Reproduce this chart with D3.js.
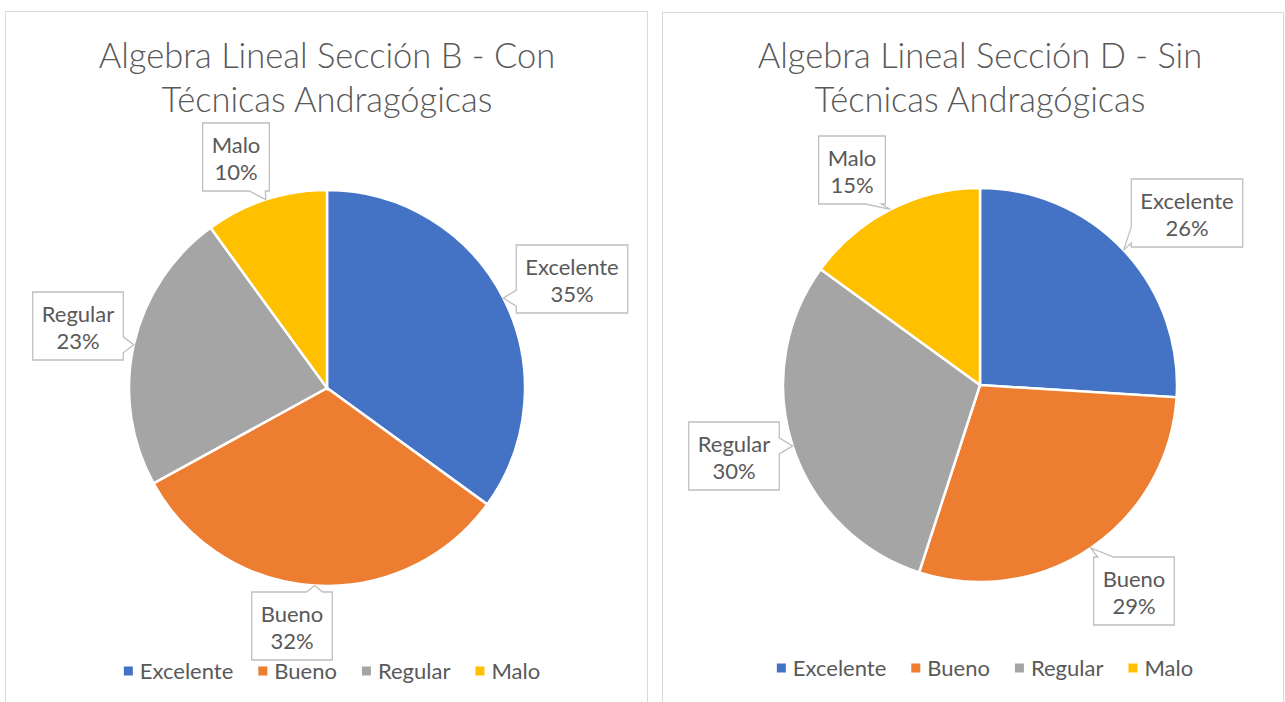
<!DOCTYPE html>
<html>
  <head>
    <meta charset="utf-8">
    <title>Algebra Lineal - pie charts</title>
    <style>
      body {
        margin: 0px;
        overflow: hidden;
        background: white;
      }

      .panel {
        fill: white;
        stroke: #d9d9d9;
        stroke-width: 1px;
        shape-rendering: crispEdges;
      }

      .title {
        font-family: Lato, sans-serif;
        font-weight: 300;
        font-size: 34.5px;
        fill: #595959;
        text-anchor: middle;
      }

      .slice {
        stroke: white;
        stroke-width: 2.5px;
      }

      .callout {
        fill: white;
        stroke: #bfbfbf;
        stroke-width: 1.3px;
      }

      .callout-text, .legend-text {
        font-family: Lato, sans-serif;
        font-size: 22px;
        fill: #595959;
      }

      .callout-text {
        text-anchor: middle;
      }
    </style>
  </head>
  <body>
    <svg id="container" width="1285" height="702"></svg>
    <script src="https://cdn.jsdelivr.net/npm/d3@7/dist/d3.min.js"></script>
    <script type="text/javascript">
      var categories = ['Excelente', 'Bueno', 'Regular', 'Malo'];
      var colors = ['#4472C4', '#ED7D31', '#A5A5A5', '#FFC000'];

      var valuesB = [35, 32, 23, 10];
      var valuesD = [26, 29, 30, 15];

      var titleB = ['Algebra Lineal Sección B - Con', 'Técnicas Andragógicas'];
      var titleD = ['Algebra Lineal Sección D - Sin', 'Técnicas Andragógicas'];

      var svg = d3.select('#container');

      // layout of the two panels, label box centres follow category order
      var charts = [
        {
          title: titleB, values: valuesB,
          panel: [5, 11, 642, 720],
          cx: 327, cy: 388, r: 198,
          legendY: 671,
          boxes: [[572, 279], [292, 626], [78, 326], [236, 157]]
        },
        {
          title: titleD, values: valuesD,
          panel: [662, 12, 621, 720],
          cx: 980, cy: 385, r: 197,
          legendY: 668,
          boxes: [[1187, 213], [1134, 591], [734, 456], [852, 170]]
        }
      ];

      function calloutPath(x0, y0, x1, y1, tip) {
        var cx = (x0 + x1) / 2, cy = (y0 + y1) / 2,
          hw = (x1 - x0) / 2, hh = (y1 - y0) / 2,
          dx = (tip[0] - cx) / hw, dy = (tip[1] - cy) / hh,
          n = 8, side, b;

        if (Math.abs(dx) > Math.abs(dy)) side = dx > 0 ? 'right' : 'left';
        else side = dy > 0 ? 'bottom' : 'top';

        var p = d3.path();
        p.moveTo(x0, y0);
        if (side == 'top') {
          b = Math.max(x0 + 12, Math.min(x1 - 12, tip[0]));
          p.lineTo(b - n, y0); p.lineTo(tip[0], tip[1]); p.lineTo(b + n, y0);
        }
        p.lineTo(x1, y0);
        if (side == 'right') {
          b = Math.max(y0 + 12, Math.min(y1 - 12, tip[1]));
          p.lineTo(x1, b - n); p.lineTo(tip[0], tip[1]); p.lineTo(x1, b + n);
        }
        p.lineTo(x1, y1);
        if (side == 'bottom') {
          b = Math.max(x0 + 12, Math.min(x1 - 12, tip[0]));
          p.lineTo(b + n, y1); p.lineTo(tip[0], tip[1]); p.lineTo(b - n, y1);
        }
        p.lineTo(x0, y1);
        if (side == 'left') {
          b = Math.max(y0 + 12, Math.min(y1 - 12, tip[1]));
          p.lineTo(x0, b + n); p.lineTo(tip[0], tip[1]); p.lineTo(x0, b - n);
        }
        p.closePath();
        return p.toString();
      }

      charts.forEach(function(c) {
        var data = categories.map(function(name, i) {
          return { name: name, value: c.values[i], color: colors[i], box: c.boxes[i] };
        });

        svg.append('rect')
          .attr('class', 'panel')
          .attr('x', c.panel[0] + 0.5)
          .attr('y', c.panel[1] + 0.5)
          .attr('width', c.panel[2])
          .attr('height', c.panel[3]);

        /*
          Title
        */
        svg.append('text')
          .attr('class', 'title')
          .selectAll('tspan')
          .data(c.title)
          .enter().append('tspan')
          .attr('x', c.cx)
          .attr('y', function(d, i) { return 68 + i * 44; })
          .text(function(d) { return d; });

        /*
          Pie
        */
        var pie = d3.pie().sort(null).value(function(d) { return d.value; });
        var arcs = pie(data);
        var arc = d3.arc().innerRadius(0).outerRadius(c.r);
        var rim = d3.arc().innerRadius(c.r).outerRadius(c.r);

        var g = svg.append('g')
          .attr('transform', 'translate(' + c.cx + ',' + c.cy + ')');

        g.selectAll('path')
          .data(arcs)
          .enter().append('path')
          .attr('class', 'slice')
          .attr('fill', function(d) { return d.data.color; })
          .attr('d', arc);

        /*
          Callouts
        */
        arcs.forEach(function(d) {
          var tip = rim.centroid(d),
            bx = d.data.box[0], by = d.data.box[1],
            t = [tip[0] + c.cx, tip[1] + c.cy];

          var lg = svg.append('g');
          var path = lg.append('path').attr('class', 'callout');
          var txt = lg.append('text').attr('class', 'callout-text');
          txt.append('tspan').attr('x', bx).attr('y', by - 4).text(d.data.name);
          txt.append('tspan').attr('x', bx).attr('y', by + 23).text(d.data.value + '%');

          var w = txt.node().getBBox().width + 18, h = 68;
          path.attr('d', calloutPath(bx - w / 2, by - h / 2, bx + w / 2, by + h / 2, t));
        });

        /*
          Legend
        */
        var leg = svg.append('g');
        var items = leg.selectAll('g')
          .data(data)
          .enter().append('g');

        items.append('rect')
          .attr('width', 9)
          .attr('height', 9)
          .attr('y', -4.5)
          .attr('fill', function(d) { return d.color; });

        items.append('text')
          .attr('class', 'legend-text')
          .attr('x', 16)
          .attr('y', 7.5)
          .text(function(d) { return d.name; });

        var offset = 0;
        items.each(function() {
          d3.select(this).attr('transform', 'translate(' + offset + ',0)');
          offset += this.getBBox().width + 25;
        });
        offset -= 25;
        leg.attr('transform', 'translate(' + (c.cx + 5 - offset / 2) + ',' + c.legendY + ')');
      });
    </script>
  </body>
</html>
